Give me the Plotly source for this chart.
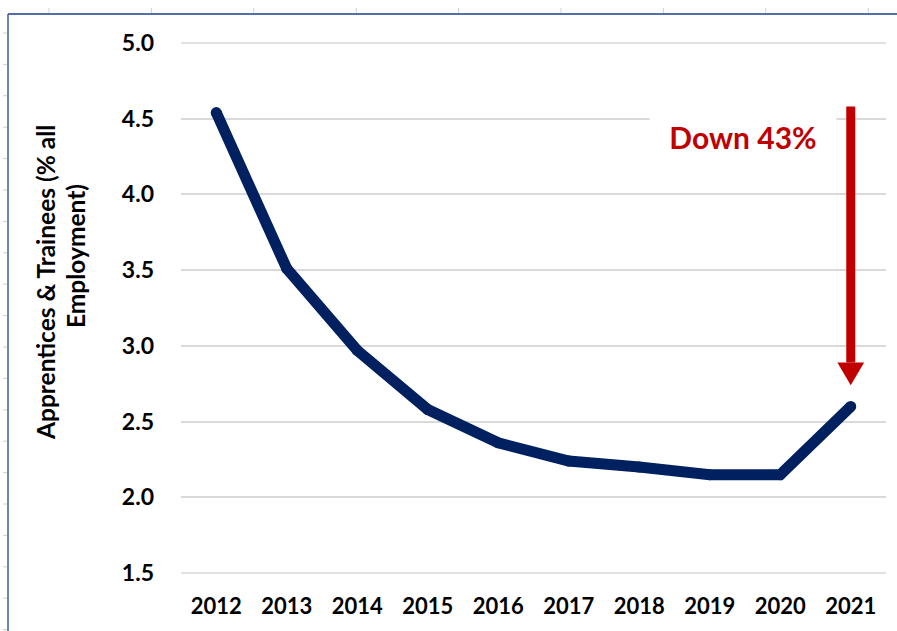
import plotly.graph_objects as go

# Apprentices & trainees as a share of all employment
years = [2012, 2013, 2014, 2015, 2016, 2017, 2018, 2019, 2020, 2021]
share = [4.54, 3.51, 2.97, 2.58, 2.36, 2.24, 2.20, 2.15, 2.15, 2.60]
y_ticks = [1.5, 2.0, 2.5, 3.0, 3.5, 4.0, 4.5, 5.0]
y_tick_text = ["1.5", "2.0", "2.5", "3.0", "3.5", "4.0", "4.5", "5.0"]
x_tick_text = [str(y) for y in years]

# Call-out arrow (value scale) and its label
arrow_year = 2021
arrow_top = 4.58
arrow_tip = 2.74
callout = "Down 43%"

NAVY = "#002060"
RED = "#C00000"
GRID = "#D9D9D9"
FONT = "Lato"

W, H = 897, 631
M_L, M_R, M_T, M_B = 181, 11, 42, 57
PW, PH = W - M_L - M_R, H - M_T - M_B


def px_x(px):
    return (px - M_L) / PW


def px_y(py):
    return 1 - (py - M_T) / PH


fig = go.Figure()

fig.add_trace(go.Scatter(
    x=years, y=share, mode="lines+markers",
    line=dict(color=NAVY, width=11),
    marker=dict(color=NAVY, size=11, line=dict(width=0)),
    hoverinfo="x+y", showlegend=False, cliponaxis=False,
))

shapes = []
# gridlines at the two ends of the value range
for gv in (y_ticks[0], y_ticks[-1]):
    shapes.append(dict(type="line", xref="paper", yref="y",
                       x0=0, x1=1, y0=gv, y1=gv,
                       line=dict(color=GRID, width=1.5), layer="below"))

# arrow shaft and head
head_len = 0.15
head_half = 0.19
shapes.append(dict(
    type="line", xref="x", yref="y",
    x0=arrow_year, x1=arrow_year, y0=arrow_top, y1=arrow_tip + head_len,
    line=dict(color=RED, width=9), layer="above",
))
shapes.append(dict(
    type="path", xref="x", yref="y",
    path=(f"M {arrow_year - head_half},{arrow_tip + head_len} "
          f"L {arrow_year + head_half},{arrow_tip + head_len} "
          f"L {arrow_year},{arrow_tip} Z"),
    fillcolor=RED, line=dict(width=0), layer="above",
))

# sheet frame: top and left rules with faint cell ticks
shapes.append(dict(type="line", xref="paper", yref="paper",
                   x0=px_x(8), x1=px_x(W), y0=px_y(14), y1=px_y(14),
                   line=dict(color="#5470A3", width=2)))
shapes.append(dict(type="line", xref="paper", yref="paper",
                   x0=px_x(8), x1=px_x(8), y0=px_y(14), y1=px_y(H),
                   line=dict(color="#3D5C9E", width=1.5)))
for i in range(9):
    cx = 49 + i * 102.4
    shapes.append(dict(type="line", xref="paper", yref="paper",
                       x0=px_x(cx), x1=px_x(cx), y0=px_y(8), y1=px_y(13),
                       line=dict(color="#D0D0D0", width=1)))
for i in range(20):
    cy = 33 + i * 31.4
    if cy > H:
        break
    shapes.append(dict(type="line", xref="paper", yref="paper",
                       x0=px_x(3), x1=px_x(7), y0=px_y(cy), y1=px_y(cy),
                       line=dict(color="#D0D0D0", width=1)))

annotations = [
    dict(text=f"<b>{callout}</b>", x=px_x(743), y=px_y(137),
         xref="paper", yref="paper", showarrow=False,
         font=dict(family=FONT, size=30, color=RED),
         bgcolor="white", width=184, height=62, xanchor="center", yanchor="middle"),
    dict(text="<b>Apprentices & Trainees (% all</b>", x=px_x(45), y=px_y(283),
         xref="paper", yref="paper", showarrow=False, textangle=-90,
         font=dict(family=FONT, size=24.5, color="black"),
         xanchor="center", yanchor="middle"),
    dict(text="<b>Employment)</b>", x=px_x(76), y=px_y(256),
         xref="paper", yref="paper", showarrow=False, textangle=-90,
         font=dict(family=FONT, size=24.5, color="black"),
         xanchor="center", yanchor="middle"),
]

fig.update_layout(
    width=W, height=H,
    margin=dict(l=M_L, r=M_R, t=M_T, b=M_B, pad=0),
    paper_bgcolor="white", plot_bgcolor="white",
    font=dict(family=FONT, color="black"),
    shapes=shapes, annotations=annotations,
    xaxis=dict(
        range=[2011.5, 2021.5], tickmode="array", tickvals=years,
        ticktext=[f"<b>{t}</b>" for t in x_tick_text],
        tickfont=dict(family=FONT, size=22, color="black"),
        showgrid=False, zeroline=False, showline=False, ticks="",
        ticklabelstandoff=17,
    ),
    yaxis=dict(
        range=[1.494, 5.006], tickmode="array", tickvals=y_ticks,
        ticktext=[f"<b>{t}</b>" for t in y_tick_text],
        tickfont=dict(family=FONT, size=23, color="black"),
        showgrid=True, gridcolor=GRID, gridwidth=1.5,
        zeroline=False, showline=False, ticks="",
        ticklabelstandoff=26,
    ),
)

fig.write_html("out.html")
